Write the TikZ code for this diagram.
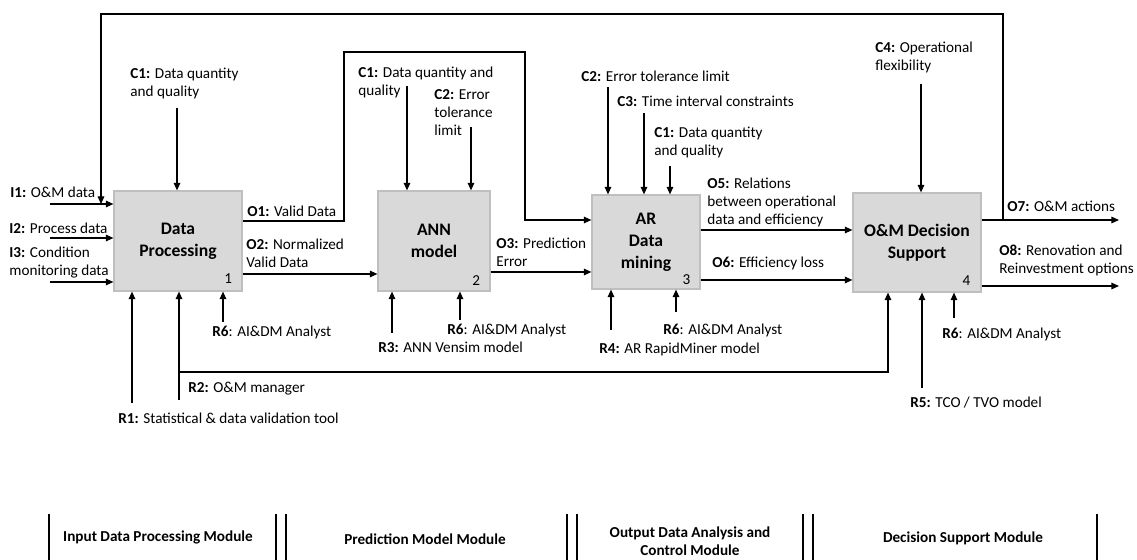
\documentclass[tikz,border=0pt]{standalone}
\usepackage{fontspec}
\setmainfont{Carlito}
\usetikzlibrary{arrows.meta}

\begin{document}
\begin{tikzpicture}[x=0.5pt, y=-0.5pt,
  func/.style={draw=black!25, fill=black!15, line width=0.6pt, inner sep=0pt,
               align=center, font=\bfseries\fontsize{8.8}{11}\selectfont},
  lbl/.style={anchor=north west, inner sep=0pt, align=left,
              font=\fontsize{7.6}{9}\selectfont},
  num/.style={anchor=base east, inner sep=0pt, font=\fontsize{7.6}{9}\selectfont},
  mod/.style={align=center, inner sep=0pt, font=\bfseries\fontsize{7.6}{9}\selectfont},
  arrow/.style={-{Triangle[length=3.8pt, width=3.3pt]}, line width=0.6pt},
  sep/.style={line width=0.7pt}]

  \useasboundingbox (0,0) rectangle (1137,560);

  % activity boxes
  \node[func, minimum width=64pt, minimum height=50pt]   (dp)  at (178,241)   {Data\\Processing};
  \node[func, minimum width=56pt, minimum height=50pt]   (ann) at (434,241)   {ANN\\model};
  \node[func, minimum width=54pt, minimum height=47pt]   (ar)  at (646,242)   {AR\\Data\\mining};
  \node[func, minimum width=64pt, minimum height=49.5pt] (ods) at (917,242.5) {O\&M Decision\\Support};

  \node[num] (n1) at ([shift={(-10,-8)}]dp.south east)  {1};
  \node[num] (n2) at ([shift={(-10,-6)}]ann.south east) {2};
  \node[num] (n3) at ([shift={(-10,-5)}]ar.south east)  {3};
  \node[num] (n4) at ([shift={(-11,-7)}]ods.south east) {4};

  % labels
  \node[lbl] (li1)   at (10,187)  {\textbf{I1:} O\&M data};
  \node[lbl] (li2)   at (9,223)   {\textbf{I2:} Process data};
  \node[lbl] (li3)   at (9,247)   {\textbf{I3:} Condition\\monitoring data};
  \node[lbl] (lc1a)  at (130,68)  {\textbf{C1:} Data quantity\\and quality};
  \node[lbl] (lo1)   at (247,206) {\textbf{O1:} Valid Data};
  \node[lbl] (lo2)   at (246,239) {\textbf{O2:} Normalized\\Valid Data};
  \node[lbl] (lr6a)  at (212,326) {\textbf{R6}: AI\&DM Analyst};
  \node[lbl] (lr2)   at (188,382) {\textbf{R2:} O\&M manager};
  \node[lbl] (lr1)   at (118,413) {\textbf{R1:} Statistical \& data validation tool};
  \node[lbl] (lc1b)  at (358,67)  {\textbf{C1:} Data quantity and\\quality};
  \node[lbl] (lc2b)  at (434,89)  {\textbf{C2:} Error\\tolerance\\limit};
  \node[lbl] (lo3)   at (496,238) {\textbf{O3:} Prediction\\Error};
  \node[lbl] (lr6b)  at (447,324) {\textbf{R6}: AI\&DM Analyst};
  \node[lbl] (lr3)   at (378,342) {\textbf{R3:} ANN Vensim model};
  \node[lbl] (lc2c)  at (581,71)  {\textbf{C2:} Error tolerance limit};
  \node[lbl] (lc3)   at (617,96)  {\textbf{C3:} Time interval constraints};
  \node[lbl] (lc1c)  at (654,127) {\textbf{C1:} Data quantity\\and quality};
  \node[lbl] (lo5)   at (707,178) {\textbf{O5:} Relations\\between operational\\data and efficiency};
  \node[lbl] (lo6)   at (712,257) {\textbf{O6:} Efficiency loss};
  \node[lbl] (lr6c)  at (663,324) {\textbf{R6}: AI\&DM Analyst};
  \node[lbl] (lr4)   at (599,343) {\textbf{R4:} AR RapidMiner model};
  \node[lbl] (lc4)   at (875,42)  {\textbf{C4:} Operational\\flexibility};
  \node[lbl] (lo7)   at (1007,201) {\textbf{O7:} O\&M actions};
  \node[lbl] (lo8)   at (999,245) {\textbf{O8:} Renovation and\\Reinvestment options};
  \node[lbl] (lr6d)  at (942,328) {\textbf{R6}: AI\&DM Analyst};
  \node[lbl] (lr5)   at (910,397) {\textbf{R5:} TCO / TVO model};

  % free ends
  \coordinate (i1) at (50,204);
  \coordinate (i2) at (50,238);
  \coordinate (i3) at (50,282);
  \coordinate (c1a) at (177,108);
  \coordinate (r6a) at (223,322);
  \coordinate (r1)  at (132,403);
  \coordinate (r2)  at (179,400);
  \coordinate (c1b) at (407,86);
  \coordinate (c2b) at (471,127);
  \coordinate (r3)  at (392,333);
  \coordinate (r6b) at (460,320);
  \coordinate (c2c) at (608,87);
  \coordinate (c3)  at (644,113);
  \coordinate (c1c) at (670,166);
  \coordinate (r4)  at (611,330);
  \coordinate (r6c) at (676,312);
  \coordinate (c4)  at (921,84);
  \coordinate (r5)  at (922,388);
  \coordinate (r6d) at (954,318);
  \coordinate (o7)  at (1119,220);
  \coordinate (o8)  at (1119,286);
  \coordinate (fb)  at (1003,220);

  % data processing
  \draw[arrow] (i1) -- (i1 -| dp.west);
  \draw[arrow] (i2) -- (i2 -| dp.west);
  \draw[arrow] (i3) -- (i3 -| dp.west);
  \draw[arrow] (c1a) -- (c1a |- dp.north);
  \draw[arrow] (r6a) -- (r6a |- dp.south);
  \draw[arrow] (r1) -- (r1 |- dp.south);
  \draw[arrow] (r2) -- (r2 |- dp.south);
  \draw[arrow] (r2 |- 0,372) -| (ods.south -| 888,0);
  \draw[arrow] (dp.east |- 0,221) -| (344,52) -| (525,220) -- (ar.west |- 0,220);
  \draw[arrow] (dp.east |- 0,274) -- (ann.west |- 0,274);

  % ANN model
  \draw[arrow] (c1b) -- (c1b |- ann.north);
  \draw[arrow] (c2b) -- (c2b |- ann.north);
  \draw[arrow] (r3) -- (r3 |- ann.south);
  \draw[arrow] (r6b) -- (r6b |- ann.south);
  \draw[arrow] (ann.east |- 0,272) -- (ar.west |- 0,272);

  % AR data mining
  \draw[arrow] (c2c) -- (c2c |- ar.north);
  \draw[arrow] (c3) -- (c3 |- ar.north);
  \draw[arrow] (c1c) -- (c1c |- ar.north);
  \draw[arrow] (r4) -- (r4 |- ar.south);
  \draw[arrow] (r6c) -- (r6c |- ar.south);
  \draw[arrow] (ar.east |- 0,230) -- (ods.west |- 0,230);
  \draw[arrow] (ar.east |- 0,280) -- (ods.west |- 0,280);

  % decision support
  \draw[arrow] (c4) -- (c4 |- ods.north);
  \draw[arrow] (r5) -- (r5 |- ods.south);
  \draw[arrow] (r6d) -- (r6d |- ods.south);
  \draw[arrow] (ods.east |- o7) -- (o7);
  \draw[arrow] (ods.east |- o8) -- (o8);
  \draw[arrow] (fb) |- (101,14) -- (i1 -| 101,0);

  % modules
  \foreach \x in {49,276,286,567,577,803,813,1097}
    \draw[sep] (\x,514) -- (\x,560);
  \node[mod] (m1) at (158,537) {Input Data Processing Module};
  \node[mod] (m2) at (425,539) {Prediction Model Module};
  \node[mod] (m3) at (690,541) {Output Data Analysis and\\Control Module};
  \node[mod] (m4) at (963,538) {Decision Support Module};
\end{tikzpicture}
\end{document}
